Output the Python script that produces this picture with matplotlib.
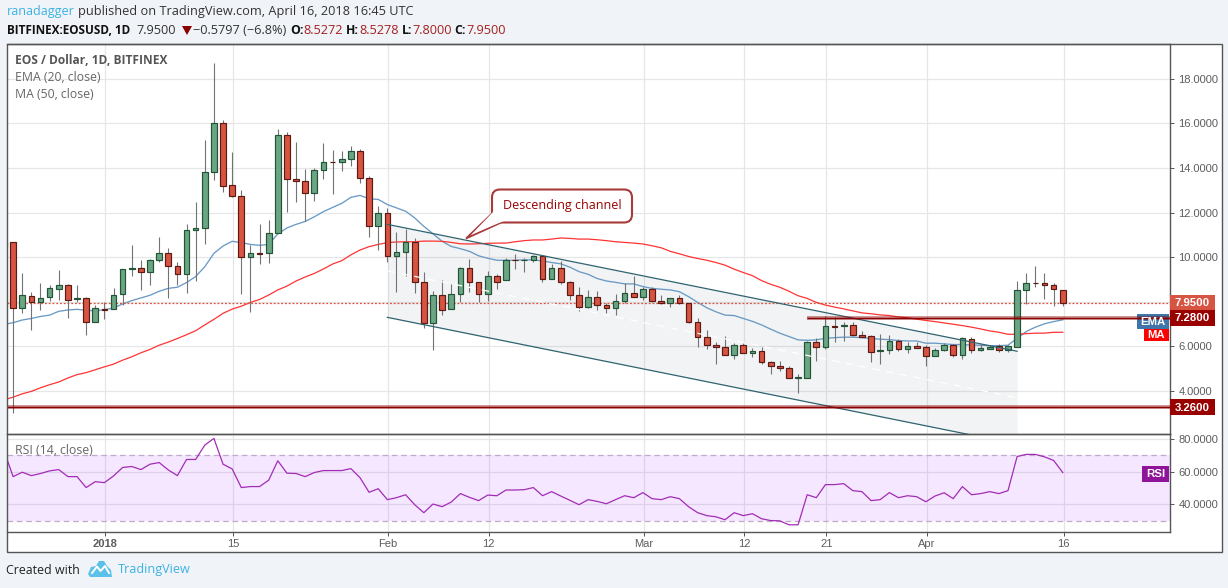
import matplotlib
matplotlib.use('Agg')
import matplotlib.pyplot as plt
from matplotlib.patches import Rectangle, FancyBboxPatch, Polygon

# day offsets from 1 Jan 2018
days = list(range(-11, 106))

opens = [10.45, 10.68, 7.70, 8.24, 8.00, 8.20, 8.59, 8.74, 8.11, 8.15, 7.07,
         7.66, 7.66, 8.33, 9.46, 9.50, 9.32, 9.86, 10.18, 9.59, 9.23, 11.22, 11.29, 13.80,
         16.00, 13.22, 12.76, 9.99, 10.17, 10.17, 11.07, 15.50, 13.49, 13.40, 12.86, 13.89,
         14.27, 14.25, 14.39, 14.74, 13.53, 11.38, 11.96, 10.04, 10.22, 10.68, 8.87, 7.06,
         8.29, 7.69, 8.33, 9.50, 8.90, 8.33, 9.14, 8.96, 9.86, 9.85, 9.87, 10.05, 9.04,
         9.50, 8.87, 8.29, 7.75, 8.23, 7.87, 7.70, 8.02, 8.38, 8.20, 8.56, 8.02, 7.93,
         8.15, 7.93, 7.10, 6.40, 6.08, 5.99, 5.63, 6.04, 5.72, 5.77, 5.28, 5.10, 5.04,
         4.60, 4.60, 6.18, 5.95, 6.90, 6.90, 6.95, 6.50, 6.45, 5.80, 5.82, 6.23, 5.86,
         6.00, 5.95, 5.58, 5.82, 6.05, 5.62, 6.32, 5.82, 5.89, 6.00, 5.85, 5.98, 8.53,
         8.86, 8.84, 8.75, 8.5272]
closes = [10.68, 7.70, 8.29, 8.00, 8.15, 8.60, 8.74, 8.09, 8.15, 7.07, 7.70,
          7.64, 8.29, 9.46, 9.50, 9.32, 9.86, 10.18, 9.59, 9.23, 11.22, 11.31, 13.80, 16.00,
          13.20, 12.76, 9.99, 10.17, 10.15, 11.07, 15.50, 13.49, 13.40, 12.86, 13.89, 14.25,
          14.25, 14.39, 14.74, 13.53, 11.38, 11.96, 10.04, 10.22, 10.68, 8.90, 7.06, 8.29,
          7.64, 8.33, 9.50, 8.90, 8.33, 9.14, 8.90, 9.86, 9.85, 9.87, 10.05, 9.04, 9.50,
          8.87, 8.29, 7.75, 8.23, 7.87, 7.70, 8.02, 8.38, 8.20, 8.56, 8.02, 7.93, 8.15,
          7.93, 7.10, 6.40, 6.08, 5.99, 5.63, 6.04, 5.72, 5.78, 5.28, 5.10, 5.04, 4.60,
          4.62, 6.18, 5.95, 6.90, 6.88, 6.96, 6.50, 6.43, 5.76, 5.82, 6.23, 5.89, 6.00,
          5.94, 5.58, 5.82, 6.05, 5.62, 6.36, 5.85, 5.92, 5.97, 5.85, 6.00, 8.53, 8.84,
          8.83, 8.74, 8.56, 7.95]
highs = [10.68, 10.68, 9.28, 8.44, 8.84, 8.75, 9.43, 8.80, 8.75, 8.20, 7.85,
         7.97, 8.62, 9.46, 10.55, 9.88, 9.91, 10.90, 10.40, 9.77, 11.50, 12.49, 15.25, 18.72,
         16.15, 14.70, 13.00, 10.55, 11.49, 11.67, 15.75, 15.61, 15.15, 13.94, 13.98, 15.12,
         14.80, 14.74, 14.98, 14.85, 13.64, 12.28, 12.20, 11.13, 11.26, 10.86, 9.34, 8.48,
         8.98, 8.80, 9.55, 9.92, 8.90, 9.38, 9.25, 9.95, 10.15, 9.95, 10.10, 10.10, 9.70,
         9.83, 8.95, 8.65, 8.53, 8.47, 7.93, 8.35, 8.86, 9.16, 8.65, 8.65, 8.29, 8.15,
         8.29, 7.95, 7.25, 6.73, 6.19, 6.46, 6.17, 6.17, 5.93, 5.95, 5.34, 5.34, 5.10,
         4.78, 6.24, 6.36, 7.34, 7.30, 7.10, 7.08, 6.69, 6.50, 6.55, 6.51, 6.35, 6.18,
         6.20, 6.05, 5.92, 6.14, 6.09, 6.41, 6.41, 6.10, 6.06, 6.09, 6.06, 8.95, 9.31,
         9.62, 9.31, 8.84, 8.5278]
lows = [10.45, 3.00, 7.51, 6.74, 7.63, 8.05, 8.08, 7.28, 7.97, 6.52, 7.07,
        7.24, 7.66, 7.85, 9.17, 8.53, 8.77, 9.80, 8.18, 8.75, 8.41, 8.95, 10.60, 13.47,
        12.94, 12.70, 8.36, 7.55, 9.71, 9.75, 11.07, 12.04, 12.49, 11.62, 12.53, 13.52,
        12.85, 13.88, 14.10, 13.34, 10.92, 10.33, 9.80, 8.45, 9.17, 8.40, 6.83, 5.84,
        7.40, 7.69, 7.97, 8.44, 7.97, 8.05, 8.57, 8.96, 9.49, 9.34, 9.76, 8.90, 9.04,
        8.81, 8.08, 7.60, 7.70, 7.63, 7.50, 7.40, 7.93, 8.20, 8.10, 7.97, 7.90, 7.78,
        7.90, 7.06, 5.98, 5.90, 5.21, 5.60, 5.42, 5.70, 5.53, 5.21, 4.77, 4.89, 4.56,
        3.91, 4.60, 5.35, 5.86, 6.18, 6.26, 6.48, 6.43, 5.31, 5.20, 5.67, 5.80, 5.71,
        5.93, 5.13, 5.56, 5.79, 5.53, 5.43, 5.71, 5.80, 5.86, 5.76, 5.76, 5.98, 7.88,
        8.65, 8.14, 7.82, 7.80]

ema = [6.98, 7.06, 7.18, 7.25, 7.34, 7.40, 7.57, 7.63, 7.66, 7.61, 7.60,
       7.64, 7.72, 7.90, 8.05, 8.17, 8.29, 8.47, 8.60, 8.65, 8.86, 9.13, 9.57, 10.17,
       10.50, 10.71, 10.65, 10.57, 10.53, 10.57, 11.04, 11.31, 11.47, 11.60, 11.81, 12.04,
       12.23, 12.41, 12.68, 12.77, 12.62, 12.59, 12.36, 12.21, 12.06, 11.76, 11.38, 11.05,
       10.71, 10.48, 10.38, 10.26, 10.06, 9.95, 9.86, 9.86, 9.86, 9.88, 9.88, 9.83, 9.76,
       9.70, 9.55, 9.35, 9.23, 9.04, 8.93, 8.87, 8.80, 8.80, 8.68, 8.60, 8.56, 8.53,
       8.45, 8.23, 7.97, 7.73, 7.55, 7.40, 7.38, 7.25, 7.12, 6.96, 6.77, 6.59, 6.44,
       6.29, 6.27, 6.29, 6.36, 6.39, 6.41, 6.41, 6.39, 6.35, 6.32, 6.30, 6.26, 6.24,
       6.24, 6.14, 6.14, 6.11, 6.08, 6.08, 6.06, 6.05, 6.03, 6.03, 6.05, 6.36, 6.66,
       6.86, 7.01, 7.11, 7.19]
ma = [3.60, 3.72, 3.87, 3.98, 4.14, 4.28, 4.40, 4.58, 4.73, 4.82, 4.95,
      5.08, 5.20, 5.38, 5.53, 5.71, 5.86, 6.05, 6.19, 6.35, 6.52, 6.70, 6.96, 7.21,
      7.48, 7.67, 7.80, 7.97, 8.10, 8.30, 8.53, 8.70, 8.93, 9.11, 9.27, 9.47,
      9.69, 9.84, 10.10, 10.32, 10.47, 10.57, 10.65, 10.68, 10.69, 10.69, 10.72, 10.72,
      10.71, 10.66, 10.60, 10.59, 10.60, 10.62, 10.63, 10.63, 10.69, 10.74, 10.77, 10.77, 10.81,
      10.86, 10.84, 10.81, 10.81, 10.78, 10.74, 10.69, 10.66, 10.63, 10.59, 10.51, 10.42, 10.26,
      10.15, 10.03, 9.94, 9.86, 9.76, 9.64, 9.46, 9.31, 9.17, 8.95, 8.78, 8.65, 8.47,
      8.27, 8.15, 7.97, 7.85, 7.76, 7.68, 7.59, 7.50, 7.46, 7.41, 7.38, 7.32, 7.28,
      7.22, 7.16, 7.11, 7.05, 6.99, 6.93, 6.86, 6.78, 6.69, 6.63, 6.54, 6.54, 6.57,
      6.59, 6.59, 6.63, 6.63]
rsi = [72.7, 56.9, 59.6, 57.5, 58.8, 60.4, 61.2, 56.9, 56.9, 50.2, 53.8,
       53.2, 57.3, 62.5, 63.1, 61.2, 64.5, 65.5, 61.0, 57.5, 67.4, 67.4, 76.2, 80.3,
       64.5, 61.6, 50.2, 50.8, 50.8, 54.7, 66.6, 59.0, 58.8, 56.9, 59.4, 60.6,
       60.6, 60.6, 61.8, 56.3, 47.3, 49.5, 42.8, 44.0, 45.8, 39.7, 34.8, 40.1,
       38.5, 41.3, 46.5, 44.2, 42.2, 45.6, 45.2, 48.7, 48.7, 48.9, 50.2, 45.2, 47.7,
       45.0, 42.4, 39.7, 42.8, 41.7, 40.3, 42.8, 45.2, 44.0, 47.1, 43.4, 42.8, 44.6,
       43.4, 38.5, 34.8, 33.0, 32.3, 30.5, 34.8, 33.0, 34.2, 31.1, 30.0, 29.8, 27.4,
       27.4, 45.8, 44.0, 52.0, 52.0, 52.6, 48.3, 47.7, 42.2, 42.8, 47.1, 44.0, 45.2,
       44.6, 41.5, 45.0, 47.0, 43.4, 50.8, 45.8, 46.5, 47.7, 46.5, 48.3, 69.2, 70.5,
       70.5, 69.0, 66.8, 59.4]

price_ticks = [4, 6, 8, 10, 12, 14, 16, 18]
rsi_ticks = [40, 60, 80]
date_ticks = [0, 14, 31, 42, 59, 70, 79, 90, 105]
date_labels = ['2018', '15', 'Feb', '12', 'Mar', '12', '21', 'Apr', '16']

channel_days = [31, 100]
channel_upper = [11.47, 5.78]
channel_lower = [7.30, 1.61]
channel_mid = [9.385, 3.695]

last_price = 7.95
resistance = 7.28
support = 3.26

W, H = 1228, 588
BG = '#f0f3f7'
GRID = '#e6e6e6'
AXIS = '#555555'
TICK_TXT = '#5d5d5d'
UP, UP_EDGE = '#6ba583', '#225437'
DOWN, DOWN_EDGE = '#d75442', '#5b1a13'
WICK = '#737375'
DARKRED = '#8b0000'
CYAN = '#3bb3e4'


def box(left, top, right, bottom):
    return [left / W, 1 - bottom / H, (right - left) / W, (bottom - top) / H]


fig = plt.figure(figsize=(W / 100, H / 100), dpi=100, facecolor=BG)
fig.patches.append(Rectangle((6.5 / W, 1 - 551.5 / H), 1215 / W, 508 / H, transform=fig.transFigure,
                             facecolor='white', edgecolor='none', zorder=-5))

ax = fig.add_axes(box(7, 44, 1170, 433.5))
ax_rsi = fig.add_axes(box(7, 433.5, 1170, 532.3), sharex=ax)
over = fig.add_axes([0, 0, 1, 1], zorder=10)
over.set_xlim(0, W)
over.set_ylim(H, 0)
over.axis('off')

ax.set_xlim(-10.67, 116.75)
ax.set_ylim(2.09, 19.56)
ax_rsi.set_ylim(22.8, 83.3)

for a, ticks in ((ax, price_ticks), (ax_rsi, rsi_ticks)):
    a.patch.set_alpha(0)
    a.set_axisbelow(True)
    a.grid(True, color=GRID, lw=0.85)
    a.yaxis.tick_right()
    a.set_yticks(ticks)
    # the 8.0000 label is hidden behind the last price tag in the original
    a.set_yticklabels(['' if a is ax and t == 8 else f'{t:.4f}' for t in ticks],
                      fontsize=8, color=TICK_TXT, family='Liberation Sans')
    a.tick_params(axis='y', length=3, width=0.7, color=AXIS, pad=3)
    for name, spine in a.spines.items():
        spine.set_color(AXIS)
        spine.set_linewidth(1.0)
    a.spines['left'].set_visible(False)

# gridlines sit 1px right of the candle centres
grid_pos = [d + 0.1 for d in date_ticks]
ax.set_xticks(grid_pos)
ax.tick_params(axis='x', length=0, labelbottom=False)
ax_rsi.tick_params(axis='x', length=3, width=0.7, color=AXIS, pad=1.5, labelbottom=True)
ax_rsi.set_xticklabels(date_labels, fontsize=8, color=TICK_TXT, family='Liberation Sans')
ax_rsi.get_xticklabels()[0].set_fontweight('bold')

# channel fill sits under the candles
ax.fill_between(channel_days, channel_lower, channel_upper, color='#546e7a', alpha=0.08, lw=0, zorder=1)

ax.plot(days, ema, color='#6a9ac4', lw=0.95, zorder=2)
ax.plot(days, ma, color='#ff3333', lw=0.9, zorder=2)
ax.axhline(last_price, color='#e0503c', lw=0.9, ls=(0, (1.5, 1.5)), zorder=2)

for d, o, h, l, c in zip(days, opens, highs, lows, closes):
    up = c >= o
    ax.vlines(d, l, h, color=WICK, lw=0.8, zorder=3)
    ax.bar(d, abs(c - o), bottom=min(o, c), width=0.62, color=UP if up else DOWN,
           edgecolor=UP_EDGE if up else DOWN_EDGE, lw=0.85, zorder=4)

ax.plot(channel_days, channel_upper, color='#2f6370', lw=0.9, zorder=5)
ax.plot(channel_days, channel_lower, color='#2f6370', lw=0.9, zorder=5)
ax.plot(channel_days, channel_mid, color='white', lw=0.9, ls=(0, (6, 5)), zorder=5)

ax.axhline(support, color=DARKRED, lw=2.6, alpha=0.5, zorder=5)
ax.axhline(support, color=DARKRED, lw=0.9, zorder=5)
ax.plot([77, ax.get_xlim()[1]], [resistance, resistance], color=DARKRED, lw=2.6, alpha=0.5, zorder=5,
        solid_capstyle='butt')
ax.plot([77, ax.get_xlim()[1]], [resistance, resistance], color=DARKRED, lw=0.9, zorder=5,
        solid_capstyle='butt')

# RSI pane
ax_rsi.axhspan(30, 70, color='#9915ff', alpha=0.1, lw=0, zorder=1)
ax_rsi.axhline(70, color='#c0aacb', lw=0.9, ls=(0, (4.5, 3)), zorder=2)
ax_rsi.axhline(30, color='#c0aacb', lw=0.9, ls=(0, (4.5, 3)), zorder=2)
ax_rsi.plot(days, rsi, color='#a32cb5', lw=0.9, zorder=3)


def py(v):
    # pixel row of a price, through the price axes
    return H - ax.transData.transform((0, v))[1]


# outer frame
over.add_patch(Rectangle((6.5, 43.5), 1215, 508, fill=False, edgecolor=AXIS, lw=1.0))


def tag(left, right, top, bottom, label, color, fontsize=8.2, bold=True):
    over.add_patch(Rectangle((left, top), right - left, bottom - top, facecolor=color, edgecolor='none'))
    over.text((left + right) / 2, (top + bottom) / 2 + 0.5, label, color='white', ha='center', va='center',
              fontsize=fontsize, fontweight='bold' if bold else 'normal', family='Liberation Sans')


tag(1137, 1169, 313.5, 329, 'EMA', '#3f75a8')
tag(1144, 1169, 329, 341, 'MA', '#ff0000')
over.plot([1137, 1169], [py(resistance), py(resistance)], color=DARKRED, lw=2.6, alpha=0.5, solid_capstyle='butt')
over.plot([1137, 1169], [py(resistance), py(resistance)], color=DARKRED, lw=0.9, solid_capstyle='butt')
tag(1170, 1215, py(last_price) - 8, py(last_price) + 8, f'{last_price:.4f}', DOWN)
tag(1170, 1215, py(resistance) - 8, py(resistance) + 8, f'{resistance:.4f}', '#990000')
tag(1170, 1215, py(support) - 8, py(support) + 8, f'{support:.4f}', '#990000')
tag(1142, 1169, 466, 481.7, 'RSI', '#8e1599')

# callout
over.add_patch(FancyBboxPatch((495, 192.5), 134, 27, boxstyle='round,pad=3,rounding_size=8',
                              facecolor='white', edgecolor='#a83a3a', lw=1.5, zorder=3))
over.add_patch(Polygon([(491.5, 214), (466, 238.5), (501, 222.6)], closed=True, facecolor='white',
                       edgecolor='#a83a3a', lw=1.3, zorder=2))
over.add_patch(Polygon([(493, 212), (472, 234), (504, 221)], closed=True, facecolor='white',
                       edgecolor='none', zorder=4))
over.text(562, 205.5, 'Descending channel', color='#990000', fontsize=9, ha='center', va='center',
          family='Open Sans', zorder=5)

# pane legends
over.text(15, 60.5, 'EOS / Dollar, 1D, BITFINEX', color='#555555', fontsize=8.6, fontweight='bold',
          va='center', family='Open Sans')
over.text(15, 77.5, 'EMA (20, close)', color='#666666', fontsize=8.8, va='center', family='Open Sans')
over.text(15, 95, 'MA (50, close)', color='#666666', fontsize=8.8, va='center', family='Open Sans')
over.text(15, 451, 'RSI (14, close)', color='#666666', fontsize=8.8, va='center', family='Open Sans')


def runs(x, y, parts):
    # lay text runs one after another, measuring each
    renderer = fig.canvas.get_renderer()
    for label, color, weight, size, gap in parts:
        t = over.text(x, y, label, color=color, fontweight=weight, fontsize=size, va='center',
                      family='Open Sans')
        x = t.get_window_extent(renderer).x1 + gap


runs(7, 12, [('ranadagger', CYAN, 'normal', 9, 3.5),
             ('published on TradingView.com, April 16, 2018 16:45 UTC', '#333333', 'normal', 9.2, 0)])
red = '#a52020'
runs(7, 30, [('BITFINEX:EOSUSD, 1D', '#111111', 'bold', 8.5, 6),
             ('7.9500', '#333333', 'normal', 9.2, 17),
             ('\u22120.5797 (\u22126.8%)', '#333333', 'normal', 9.2, 4),
             ('O:', '#111111', 'bold', 8.8, 0), ('8.5272', red, 'normal', 9.2, 3),
             ('H:', '#111111', 'bold', 8.8, 0), ('8.5278', red, 'normal', 9.2, 3),
             ('L:', '#111111', 'bold', 8.8, 0), ('7.8000', red, 'normal', 9.2, 3),
             ('C:', '#111111', 'bold', 8.8, 0), ('7.9500', red, 'normal', 9.2, 0)])
over.add_patch(Polygon([(182, 26), (192, 26), (187, 35)], closed=True, facecolor=DARKRED, edgecolor='none'))

# footer
over.text(6, 570, 'Created with', color='#222222', fontsize=8.9, va='center', family='Open Sans')
over.text(118, 570, 'TradingView', color=CYAN, fontsize=9.1, va='center', family='Open Sans')
over.add_patch(Polygon([(88, 574), (91, 567), (96, 566), (99, 561), (104, 561), (107, 566), (111, 570),
                        (112, 577), (90, 577)], closed=True, facecolor='#5cc1ea', edgecolor='none'))
over.plot([92, 97, 100.5, 105, 109], [573, 566.5, 571, 566, 573], color='white', lw=1.4)

fig.savefig('out.png', dpi=100, facecolor=BG)
